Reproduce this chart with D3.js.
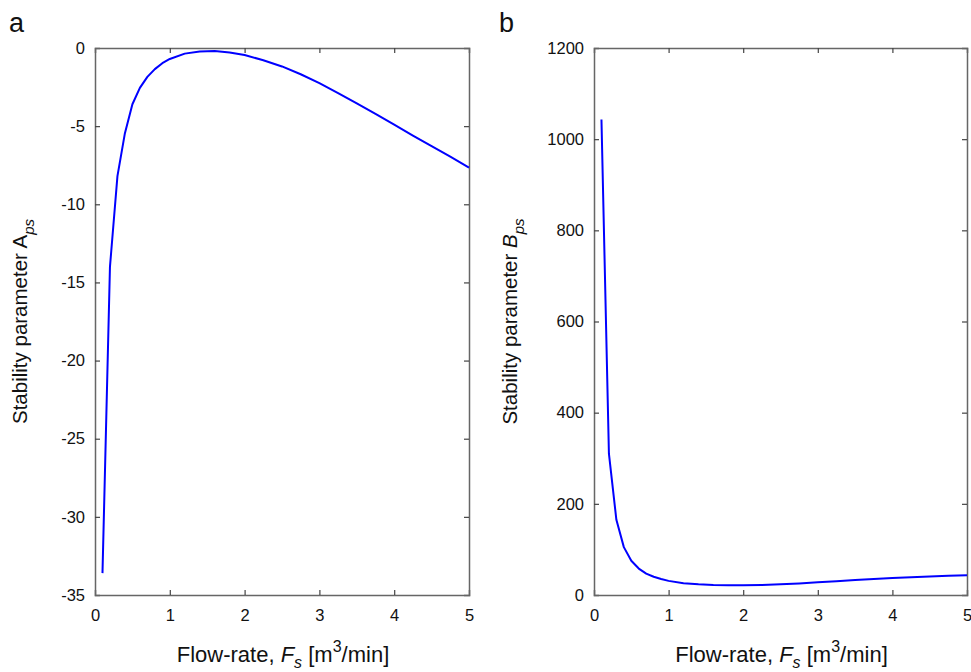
<!DOCTYPE html>
<html>
<head>
<meta charset="utf-8">
<script src="https://cdn.jsdelivr.net/npm/d3@7"></script>
<style>
  body { margin: 0; background: #fff; }
  svg { display: block; font-family: "Liberation Sans", Arial, Helvetica, sans-serif; }
</style>
</head>
<body>
<svg id="chart" width="971" height="672"></svg>
<script>
// Flow-rate values (m^3/min)
const flowRate = [0.1, 0.2, 0.3, 0.4, 0.5, 0.6, 0.7, 0.8, 0.9, 1.0, 1.2, 1.4, 1.6, 1.8, 2.0,
                  2.25, 2.5, 2.75, 3.0, 3.25, 3.5, 3.75, 4.0, 4.25, 4.5, 4.75, 5.0];
// Stability parameter A_ps
const stabilityA = [-33.6, -14.0, -8.2, -5.45, -3.6, -2.55, -1.85, -1.35, -0.97, -0.7, -0.36, -0.22, -0.19, -0.29, -0.45,
                    -0.78, -1.18, -1.68, -2.25, -2.88, -3.55, -4.22, -4.9, -5.6, -6.28, -6.95, -7.65];
// Stability parameter B_ps
const stabilityB = [1043, 310, 165, 105, 75, 58, 47, 40, 35, 31, 26, 23.5, 22, 21.3, 21.3,
                    22, 23.5, 25.3, 27.8, 30.3, 32.8, 35.2, 37.5, 39.2, 40.6, 42, 43.5];

const xTicks = [0, 1, 2, 3, 4, 5];
const aTicks = [0, -5, -10, -15, -20, -25, -30, -35];
const bTicks = [0, 200, 400, 600, 800, 1000, 1200];

const svg = d3.select("#chart");
const frameColor = "#666";
const tickLen = 5;
const fmt = d => String(d); // plain hyphen minus, as in the original

function panel(opts) {
  const { left, right, top, bottom, yDomain, yTicks, values, letter, letterX, yLabelX, yVar } = opts;
  const x = d3.scaleLinear().domain([0, 5]).range([left, right]);
  const y = d3.scaleLinear().domain(yDomain).range([bottom, top]);
  const g = svg.append("g");

  const xb = g.append("g").attr("transform", `translate(0,${bottom})`)
    .call(d3.axisBottom(x).tickValues(xTicks).tickSize(-tickLen).tickPadding(14).tickFormat(fmt));
  const xt = g.append("g").attr("transform", `translate(0,${top})`)
    .call(d3.axisTop(x).tickValues(xTicks).tickSize(-tickLen).tickFormat(""));
  const yl = g.append("g").attr("transform", `translate(${left},0)`)
    .call(d3.axisLeft(y).tickValues(yTicks).tickSize(-tickLen).tickPadding(10).tickFormat(fmt));
  const yr = g.append("g").attr("transform", `translate(${right},0)`)
    .call(d3.axisRight(y).tickValues(yTicks).tickSize(-tickLen).tickFormat(""));

  [xb, xt, yl, yr].forEach(a => {
    a.select(".domain").attr("stroke", frameColor).attr("stroke-width", 1.5);
    a.selectAll(".tick line").attr("stroke", "#444").attr("stroke-width", 1.2);
    a.selectAll(".tick text").attr("fill", "#111").style("font-size", "16.5px")
      .style("font-family", '"Liberation Sans", Arial, sans-serif');
  });
  [xb, xt].forEach(a => a.selectAll(".tick line").filter(d => d === 0 || d === 5).remove());
  [yl, yr].forEach(a => a.selectAll(".tick line").filter(d => d === yDomain[0] || d === yDomain[1]).remove());

  const line = d3.line().x((d, i) => x(flowRate[i])).y(d => y(d));
  g.append("path").datum(values).attr("d", line)
    .attr("fill", "none").attr("stroke", "#0000ff").attr("stroke-width", 2)
    .attr("stroke-linejoin", "round");

  // x title
  const xt2 = g.append("text").attr("x", (left + right) / 2 + 1).attr("y", 662)
    .attr("text-anchor", "middle").style("font-size", "22px").attr("fill", "#111");
  xt2.append("tspan").text("Flow-rate, ");
  xt2.append("tspan").style("font-style", "italic").text("F");
  xt2.append("tspan").style("font-style", "italic").style("font-size", "16px").attr("dy", 6).text("s");
  xt2.append("tspan").attr("dy", -6).text(" [m");
  xt2.append("tspan").style("font-size", "16px").attr("dy", -10).text("3");
  xt2.append("tspan").attr("dy", 10).text("/min]");

  // y title
  const yt = g.append("text")
    .attr("transform", `translate(${yLabelX},${(top + bottom) / 2}) rotate(-90)`)
    .attr("text-anchor", "middle").style("font-size", "20.5px").attr("fill", "#111");
  yt.append("tspan").text("Stability parameter ");
  yt.append("tspan").style("font-style", yVar === "B" ? "italic" : "normal").text(yVar);
  yt.append("tspan").style("font-style", "italic").style("font-size", "15px").attr("dy", 7).text("ps");

  svg.append("text").attr("x", letterX).attr("y", 32).style("font-size", "27px").attr("fill", "#111").text(letter);
}

panel({ left: 95, right: 469, top: 48, bottom: 595, yDomain: [-35, 0], yTicks: aTicks,
        values: stabilityA, letter: "a", letterX: 9, yLabelX: 27, yVar: "A" });
panel({ left: 594, right: 967, top: 48, bottom: 595, yDomain: [0, 1200], yTicks: bTicks,
        values: stabilityB, letter: "b", letterX: 499, yLabelX: 517, yVar: "B" });
</script>
</body>
</html>
